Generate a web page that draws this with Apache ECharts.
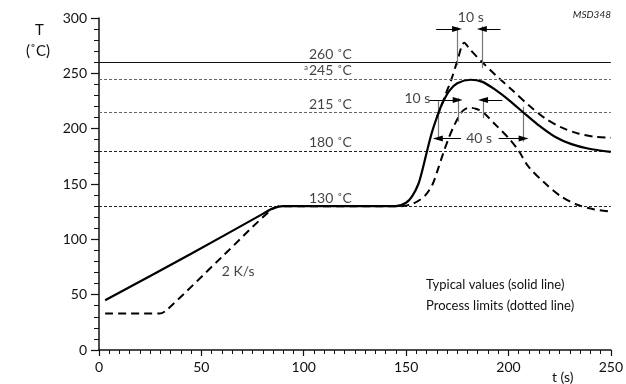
<!DOCTYPE html>
<html>
<head>
<meta charset="utf-8">
<script src="https://cdn.jsdelivr.net/npm/echarts@6/dist/echarts.min.js"></script>
<style>
  html, body { margin: 0; padding: 0; background: #fff; }
  #main { width: 626px; height: 384px; }
</style>
</head>
<body>
<div id="main"></div>
<script>
// reflow profile, [t (s), T (degC)]
var typical = [[3, 45], [45, 87], [80, 123], [85, 128], [90, 130], [145, 130], [150, 133], [153, 139],
  [156, 150], [158, 163], [160, 178], [162.5, 196], [165, 210], [167.5, 222], [171, 234], [175, 241],
  [181.5, 244.2], [187, 242.5], [193.7, 235], [200.2, 225.8], [207.4, 214.4], [214.6, 203.3], [222.7, 192.7],
  [230.8, 186], [238.8, 182.1], [250, 179]];
var lowerLimit = [[3, 33], [29.5, 33], [33, 36], [60, 84], [84, 126.5], [89, 130], [147.8, 130], [153, 132],
  [157, 136], [160, 141], [163, 150], [165.5, 163], [168, 177], [170.5, 190], [173, 201], [175.5, 210],
  [177.8, 216.3], [180.8, 219], [184, 218], [187.3, 215.3], [193.7, 203.5], [200.2, 191.2], [205, 180],
  [209.8, 165.6], [217.9, 150.6], [225.9, 138.5], [234, 131], [242, 127], [250, 125]];
var upperLimit = [[165, 210], [167.5, 222], [169.5, 232], [172, 243.9], [174.9, 260.4], [178.4, 277.6],
  [181.5, 271], [187, 260.4], [193.7, 248.4], [201.8, 234.9], [209.8, 221.3], [217.9, 209.3], [225.9, 201.1],
  [234, 195.7], [242, 192.7], [250, 191.8]];

var levels = [260, 245, 215, 180, 130];
var levelLabels = ['260 ˚C', '{a|a}245 ˚C', '215 ˚C', '180 ˚C', '130 ˚C'];
var levelLabelT = 123.5;

// dimension marks: vertical [t, Tfrom, Tto], arrows [tFrom, tTo, T], texts [t, T, text]
var dimLines = [[174.9, 257.5, 291.8], [187, 254.7, 292.5], [165.5, 189.7, 225.8], [175.5, 206.2, 227.6],
  [187.6, 209.6, 227.6], [207.4, 188.2, 219.8]];
var dimArrows = [[164.7, 174.9, 290], [196.1, 187, 290], [161.4, 175.2, 225.8], [197, 187.6, 225.8],
  [176.8, 165.5, 191.2], [195.2, 207.4, 191.2]];
var dimTexts = [[181.6, 300.8, '10 s'], [155.5, 227.4, '10 s'], [185.7, 191.2, '40 s'], [68, 70.7, '2 K/s']];

var chart = echarts.init(document.getElementById('main'));
var font = 'Lato';

var levelMarks = levels.map(function (v, i) {
  return {
    yAxis: v,
    lineStyle: i === 0 ? { type: 'solid', color: '#111', width: 1 }
      : { type: [3, 2], color: i < 3 ? '#666' : '#222', width: 1 }
  };
});

var dimMarks = [];
dimLines.forEach(function (d) {
  dimMarks.push([{ coord: [d[0], d[1]], symbol: 'none', lineStyle: { color: '#777', width: 1.2, type: 'solid' } },
    { coord: [d[0], d[2]], symbol: 'none' }]);
});
dimArrows.forEach(function (d) {
  dimMarks.push([{ coord: [d[0], d[2]], symbol: 'none', lineStyle: { color: '#000', width: 1, type: 'solid' } },
    { coord: [d[1], d[2]], symbol: 'triangle', symbolSize: [6, 10] }]);
});

var option = {
  animation: false,
  backgroundColor: '#fff',
  textStyle: { fontFamily: font },
  grid: { left: 99, right: 9.3, top: 18, bottom: 34 },
  xAxis: {
    type: 'value', min: 0, max: 250, interval: 50,
    axisLine: { lineStyle: { color: '#111', width: 1.5 } },
    axisTick: { length: 6, lineStyle: { color: '#111', width: 1.2 } },
    minorTick: { show: true, splitNumber: 10, length: 4, lineStyle: { color: '#111', width: 1 } },
    splitLine: { show: false },
    axisLabel: { color: '#111', fontSize: 14, fontFamily: font, margin: 10 }
  },
  yAxis: {
    type: 'value', min: 0, max: 300, interval: 50,
    axisLine: { show: true, lineStyle: { color: '#111', width: 1.5 } },
    axisTick: { show: true, length: 8, lineStyle: { color: '#111', width: 1.2 } },
    minorTick: { show: true, splitNumber: 5, length: 5, lineStyle: { color: '#111', width: 1 } },
    splitLine: { show: false },
    axisLabel: { color: '#111', fontSize: 14, fontFamily: font, margin: 12 }
  },
  series: [
    {
      name: 'Typical', type: 'line', data: typical, showSymbol: false, smooth: 0.3, z: 5,
      lineStyle: { color: '#000', width: 2.2 },
      markLine: { silent: true, symbol: ['none', 'none'], label: { show: false }, data: levelMarks }
    },
    {
      name: 'Lower limit', type: 'line', data: lowerLimit, showSymbol: false, smooth: 0.3, z: 4,
      lineStyle: { color: '#000', width: 2, type: [8, 5] }
    },
    {
      name: 'Upper limit', type: 'line', data: upperLimit, showSymbol: false, smooth: 0.3, z: 4,
      lineStyle: { color: '#000', width: 2, type: [8, 5] }
    },
    {
      name: 'Levels', type: 'scatter', symbolSize: 0, clip: false, silent: true,
      data: levels.map(function (v, i) { return [levelLabelT, v, levelLabels[i]]; }),
      label: {
        show: true, position: [0, -1], align: 'right', verticalAlign: 'bottom',
        formatter: function (p) { return p.data[2]; },
        color: '#111', fontSize: 14, fontFamily: font,
        rich: { a: { fontSize: 8, verticalAlign: 'top', padding: [0, 1, 6, 0], color: '#111' } }
      }
    },
    {
      name: 'Dims', type: 'scatter', symbolSize: 0, clip: false, silent: true,
      data: dimTexts,
      label: {
        show: true, position: 'inside', color: '#111', fontSize: 14, fontFamily: font,
        formatter: function (p) { return p.data[2]; }
      },
      markLine: { silent: true, symbol: 'none', label: { show: false }, data: dimMarks }
    }
  ],
  graphic: [
    { type: 'text', left: 35, top: 23, style: { text: 'T', font: '15px Lato', fill: '#111' } },
    { type: 'text', left: 26, top: 44, style: { text: '(˚C)', font: '15px Lato', fill: '#111' } },
    { type: 'text', right: 15, top: 10, style: { text: 'MSD348', font: 'italic 10px Lato', fill: '#222' } },
    { type: 'text', left: 426, top: 278, style: { text: 'Typical values (solid line)', font: '13px Lato', fill: '#111' } },
    { type: 'text', left: 426, top: 299, style: { text: 'Process limits (dotted line)', font: '13px Lato', fill: '#111' } },
    { type: 'text', left: 552, top: 370, style: { text: 't (s)', font: '14px Lato', fill: '#111' } }
  ]
};

chart.setOption(option);
</script>
</body>
</html>
